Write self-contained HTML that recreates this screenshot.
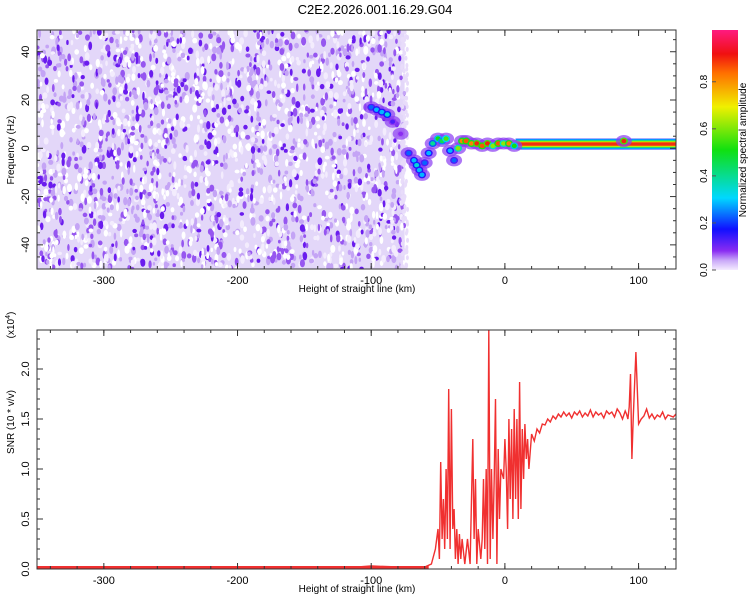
<!DOCTYPE html>
<html><head><meta charset="utf-8"><style>
body{margin:0;background:#fff;}
svg{display:block;font-family:"Liberation Sans",sans-serif;}
</style></head><body>
<svg id="chart" width="750" height="600" viewBox="0 0 750 600">
<defs>
<linearGradient id="cbar" x1="0" y1="1" x2="0" y2="0">
<stop offset="0" stop-color="#f4ecff"/><stop offset="0.04" stop-color="#c9a8f8"/>
<stop offset="0.08" stop-color="#8a2cf2"/><stop offset="0.17" stop-color="#1010ff"/>
<stop offset="0.3" stop-color="#00d8ff"/><stop offset="0.5" stop-color="#10e010"/>
<stop offset="0.68" stop-color="#f0f000"/><stop offset="0.82" stop-color="#ff7000"/>
<stop offset="0.9" stop-color="#f01010"/><stop offset="1" stop-color="#ff1a80"/>
</linearGradient>
<linearGradient id="band" x1="0" y1="0" x2="0" y2="1">
<stop offset="0" stop-color="#1010ff"/><stop offset="0.12" stop-color="#00d8ff"/>
<stop offset="0.22" stop-color="#30e020"/><stop offset="0.3" stop-color="#f0f000"/>
<stop offset="0.38" stop-color="#f03010"/><stop offset="0.62" stop-color="#f03010"/>
<stop offset="0.7" stop-color="#f0f000"/><stop offset="0.78" stop-color="#30e020"/>
<stop offset="0.88" stop-color="#00d8ff"/><stop offset="1" stop-color="#1010ff"/>
</linearGradient>
<clipPath id="clipTop"><rect x="37" y="30" width="639" height="239"/></clipPath>
<clipPath id="clipBot"><rect x="37" y="330" width="639" height="239"/></clipPath>
</defs>
<text x="375" y="14" font-size="13" text-anchor="middle">C2E2.2026.001.16.29.G04</text>
<g id="topPanel"></g>
<g id="botPanel"></g>
<g id="cbPanel"></g>
</svg>
<script>
// ---- data ----
const xTicks = [-300, -200, -100, 0, 100];
const freqTicks = [-40, -20, 0, 20, 40];
const snrTicks = [0.0, 0.5, 1.0, 1.5, 2.0];
const cbTicks = [0.0, 0.2, 0.4, 0.6, 0.8];
// spectrogram signal track: height (km), frequency (Hz), amplitude
const trackKm   = [-100,-96,-92,-88,-84,-78,-72,-68,-66,-64,-62,-60,-57,-54,-50,-47,-44,-41,-38,-35,-32,-29,-25,-21,-17,-13,-9,-5,-1,3,7,89];
const trackFreq = [17,16,15,14,11,6,-2,-5,-7,-9,-11,-6,-2,2,4,3,4,-1,-5,0,3,3,2,2,1,2,1,2,2,2,1,3];
const trackAmp  = [0.25,0.3,0.3,0.35,0.15,0.1,0.25,0.3,0.35,0.3,0.3,0.25,0.3,0.4,0.5,0.45,0.55,0.3,0.25,0.6,0.8,0.85,0.8,0.9,0.85,0.9,0.6,0.85,0.6,0.8,0.5,0.9];
const bandStartKm = 8, bandFreqLow = -0.5, bandFreqHigh = 4;
const noiseEdgeKm = -75;
// SNR series (x 1e4)
const snrKm = [-350,-330,-300,-280,-250,-220,-200,-170,-150,-120,-100,-80,-60,-55,-52,-50,-49,-48,-47,-46,-45,-44,-43,-42,-41,-40,-39,-38,-37,-36,-35,-34,-33,-32,-30,-28,-26,-24,-23,-22,-21,-20,-18,-17,-16,-15,-14,-13,-12,-11,-10,-9,-8,-7,-6,-5,-4,-3,-1,0,1,2,3,4,5,6,7,8,9,10,11,12,13,14,15,16,17,18,20,22,24,26,28,30,32,34,36,38,40,42,44,46,48,50,52,54,56,58,60,62,64,66,68,70,72,74,76,78,80,82,84,86,88,90,91,92,93,94,95,96,98,100,102,104,106,108,110,112,114,116,118,120,122,124,126,128];
const snrVal = [0.02,0.01,0.02,0.01,0.02,0.01,0.02,0.01,0.02,0.01,0.03,0.02,0.02,0.05,0.2,0.4,0.1,1.07,0.3,0.7,0.2,1.0,0.3,1.8,0.2,1.6,0.4,0.6,0.1,0.4,0.05,0.35,0.1,0.3,0.05,0.3,0.05,1.3,0.3,0.9,0.05,0.4,0.1,0.3,0.9,0.2,1.0,0.05,2.4,0.1,1.0,0.3,0.9,1.7,0.05,1.2,0.5,1.0,0.9,1.3,1.0,0.4,1.5,0.7,1.4,0.5,1.6,0.7,1.5,0.5,1.87,0.6,1.4,0.9,1.45,1.1,1.3,1.0,1.35,1.28,1.4,1.36,1.45,1.44,1.5,1.47,1.53,1.5,1.55,1.52,1.57,1.53,1.56,1.51,1.57,1.54,1.58,1.52,1.56,1.53,1.59,1.52,1.57,1.54,1.56,1.51,1.58,1.55,1.57,1.52,1.6,1.56,1.5,1.58,1.55,1.5,1.62,1.95,1.1,1.5,2.17,1.45,1.5,1.53,1.6,1.51,1.55,1.5,1.54,1.52,1.57,1.5,1.54,1.53,1.52,1.55,1.51,1.53];

// ---- axes ----
const X0=37,X1=676,KM0=-350,KM1=128;
const sx = k => X0 + (k-KM0)/(KM1-KM0)*(X1-X0);
const T0=30,T1=269,F0=-50,F1=49;
const sf = f => T1 - (f-F0)/(F1-F0)*(T1-T0);
const B0=330,B1=569,S0=0,S1=2.39;
const ss = v => B1 - (v-S0)/(S1-S0)*(B1-B0);
const CB0=712,CB1=738,CT=30,CBB=270;
const sc = a => CBB - a/1.02*(CBB-CT);
const NS='http://www.w3.org/2000/svg';
function mk(tag, attrs, parent){const e=document.createElementNS(NS,tag);for(const k in attrs)e.setAttribute(k,attrs[k]);parent.appendChild(e);return e;}
function ampColor(a){
  const st=[[0,[200,170,248]],[0.1,[138,44,242]],[0.2,[16,16,255]],[0.32,[0,216,255]],[0.5,[16,224,16]],[0.68,[240,240,0]],[0.82,[255,112,0]],[0.92,[240,16,16]]];
  let c=st[st.length-1][1];
  for(let i=0;i<st.length-1;i++){if(a>=st[i][0]&&a<=st[i+1][0]){const t=(a-st[i][0])/(st[i+1][0]-st[i][0]);c=st[i][1].map((v,j)=>Math.round(v+(st[i+1][1][j]-v)*t));break;}}
  return 'rgb('+c.join(',')+')';
}
const topG=document.getElementById('topPanel'), botG=document.getElementById('botPanel'), cbG=document.getElementById('cbPanel');

// ---- spectrogram ----
const gClip=mk('g',{'clip-path':'url(#clipTop)'},topG);
const noise=mk('rect',{x:X0,y:T0,width:sx(noiseEdgeKm)-X0,height:T1-T0,fill:'#e3d7f9'},gClip);


// noise texture (decorative)
let seed=12345; const rnd=()=>{seed=(seed*1103515245+12345)%2147483648;return seed/2147483648;};
const noiseG=mk('g',{},gClip);


const nw=sx(noiseEdgeKm)-X0;
for(let i=0;i<2400;i++){
  const x=X0+rnd()*nw, y=T0+rnd()*(T1-T0), r=rnd();
  const col = r<0.25?'#ffffff': r<0.45?'#f3ecfd': r<0.68?'#c4a4f5': r<0.88?'#9656f0':'#6a1cee';
  mk('ellipse',{cx:x,cy:y,rx:1.2+rnd()*1.4,ry:1.8+rnd()*2.6,fill:col},noiseG);
}
for(let i=0;i<120;i++){
  const x=sx(noiseEdgeKm)+rnd()*6-3, y=T0+rnd()*(T1-T0);
  mk('ellipse',{cx:x,cy:y,rx:1.5,ry:2.5,fill:'#e8dcfa'},noiseG);
}
// band
const band=mk('rect',{x:sx(bandStartKm),y:sf(bandFreqHigh),width:X1-sx(bandStartKm),height:sf(bandFreqLow)-sf(bandFreqHigh),fill:'url(#band)'},gClip);


// track
for(let i=0;i<trackKm.length;i++){
  const cx=sx(trackKm[i]), cy=sf(trackFreq[i]);
  mk('ellipse',{cx:cx,cy:cy,rx:8,ry:6,fill:'#8a3cf2',opacity:0.7},gClip);
}
for(let i=0;i<trackKm.length;i++){
  const cx=sx(trackKm[i]), cy=sf(trackFreq[i]);
  mk('ellipse',{cx:cx,cy:cy,rx:4,ry:3.5,fill:ampColor(trackAmp[i]*0.6)},gClip);
  const d=mk('ellipse',{cx:cx,cy:cy,rx:2.5,ry:2.2,fill:ampColor(trackAmp[i])},gClip);
  
  
}
function frame(g,y0,y1){
  const f=mk('rect',{x:X0,y:y0,width:X1-X0,height:y1-y0,fill:'none',stroke:'#333','stroke-width':1},g);
  
  
  for(let k=-340;k<=120;k+=20){const x=sx(k);mk('line',{x1:x,x2:x,y1:y1,y2:y1-3,stroke:'#333'},g);mk('line',{x1:x,x2:x,y1:y0,y2:y0+3,stroke:'#333'},g);}
  xTicks.forEach(k=>{const x=sx(k);mk('line',{x1:x,x2:x,y1:y1,y2:y1-6,stroke:'#333'},g);mk('line',{x1:x,x2:x,y1:y0,y2:y0+6,stroke:'#333'},g);
    const t=mk('text',{x:x,y:y1+15,'font-size':11,'text-anchor':'middle'},g);t.textContent=k;
    
    });
  const xt=mk('text',{x:357,y:y1+23,'font-size':10,'text-anchor':'middle'},g);xt.textContent='Height of straight line (km)';
  
  
}
frame(topG,T0,T1);
for(let f=-45;f<=45;f+=5){const y=sf(f);const L=f%20===0?6:3;mk('line',{x1:X0,x2:X0+L,y1:y,y2:y,stroke:'#333'},topG);mk('line',{x1:X1,x2:X1-L,y1:y,y2:y,stroke:'#333'},topG);}
freqTicks.forEach(f=>{const y=sf(f);const t=mk('text',{x:0,y:0,'font-size':11,'text-anchor':'middle',transform:`translate(29,${y}) rotate(-90)`},topG);t.textContent=f;
  
  });
const yt1=mk('text',{x:0,y:0,'font-size':10,'text-anchor':'middle',transform:`translate(14,150) rotate(-90)`},topG);yt1.textContent='Frequency (Hz)';



// ---- SNR ----
const gb=mk('g',{'clip-path':'url(#clipBot)'},botG);
const base=mk('line',{x1:X0,x2:sx(-57),y1:ss(0.015),y2:ss(0.015),stroke:'#f03030','stroke-width':3},gb);


const pts=snrKm.map((k,i)=>sx(k).toFixed(1)+','+ss(snrVal[i]).toFixed(1)).join(' ');
const line=mk('polyline',{points:pts,fill:'none',stroke:'#f03030','stroke-width':1.4},gb);


frame(botG,B0,B1);
for(let v=0.1;v<2.39;v+=0.1){const y=ss(v);mk('line',{x1:X0,x2:X0+3,y1:y,y2:y,stroke:'#333'},botG);mk('line',{x1:X1,x2:X1-3,y1:y,y2:y,stroke:'#333'},botG);}
snrTicks.forEach(v=>{const y=ss(v);mk('line',{x1:X0,x2:X0+6,y1:y,y2:y,stroke:'#333'},botG);mk('line',{x1:X1,x2:X1-6,y1:y,y2:y,stroke:'#333'},botG);
  const t=mk('text',{x:0,y:0,'font-size':11,'text-anchor':'middle',transform:`translate(29,${y}) rotate(-90)`},botG);t.textContent=v.toFixed(1);
  
  });
const yt2=mk('text',{x:0,y:0,'font-size':10,'text-anchor':'middle',transform:`translate(14,422) rotate(-90)`},botG);yt2.textContent='SNR (10 * v/v)';


const ex=mk('text',{x:0,y:0,'font-size':10,'text-anchor':'middle',transform:`translate(14,325) rotate(-90)`},botG);


const s1=mk('tspan',{},ex);s1.textContent='(x10';
const s2=mk('tspan',{dy:-4,'font-size':7},ex);s2.textContent='4';
const s3=mk('tspan',{dy:4},ex);s3.textContent=')';

// ---- colorbar ----
const cr=mk('rect',{x:CB0,y:CT,width:CB1-CB0,height:CBB-CT,fill:'url(#cbar)'},cbG);


cbTicks.forEach(a=>{const y=sc(a);mk('line',{x1:CB0,x2:CB0+4,y1:y,y2:y,stroke:'#555'},cbG);
  const t=mk('text',{x:0,y:0,'font-size':10,'text-anchor':'middle',transform:`translate(707,${y}) rotate(-90)`},cbG);t.textContent=a.toFixed(1);
  
  });
const ct=mk('text',{x:0,y:0,'font-size':10,'text-anchor':'middle',transform:`translate(746,150) rotate(-90)`},cbG);ct.textContent='Normalized spectral amplitude';


</script>
</body></html>
